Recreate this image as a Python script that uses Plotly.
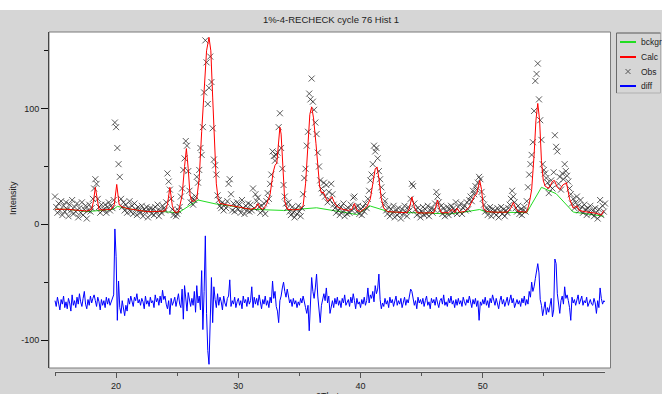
import plotly.graph_objects as go

# ---------------- data ----------------
scan_start = 15.0
scan_step = 0.1

obs = [
    24, 15, 10, 18, 12, 20, 8, 16, 11, 19,        # 15
    13, 7, 17, 12, 21, 9, 15, 11, 18, 6,          # 16
    14, 10, 19, 8, 13, 16, 5, 12, 17, 11,         # 17
    14, 22, 31, 39, 35, 22, 15, 10, 17, 12,       # 18
    13, 17, 10, 15, 19, 12, 16, 14, 21, 88,       # 19
    84, 66, 52, 41, 22, 15, 19, 12, 17, 10,       # 20
    14, 20, 11, 16, 9, 18, 13, 8, 15, 12,         # 21
    10, 16, 7, 13, 11, 15, 6, 12, 14, 9,          # 22
    13, 8, 15, 11, 17, 7, 12, 10, 16, 14,         # 23
    12, 19, 44, 37, 30, 22, 13, 8, 11, 7,         # 24
    9, 12, 15, 24, 31, 47, 57, 72, 68, 46,        # 25
    29, 19, 23, 17, 21, 24, 41, 36, 47, 66,       # 26
    60, 84, 114, 159, 140, 104, 118, 145, 123, 83,  # 27
    56, 51, 43, 25, 21, 16, 14, 19, 12, 17,       # 28
    14, 20, 35, 39, 26, 12, 18, 11, 15, 19,       # 29
    13, 17, 10, 21, 14, 9, 16, 12, 18, 11,        # 30
    17, 12, 31, 14, 26, 20, 23, 15, 10, 16,       # 31
    12, 18, 9, 20, 27, 22, 35, 43, 63, 59,        # 32
    55, 60, 62, 84, 96, 66, 48, 34, 24, 18,       # 33
    14, 19, 11, 8, 15, 10, 6, 13, 9, 16,          # 34
    11, 7, 14, 26, 40, 48, 68, 80, 113, 108,      # 35
    126, 106, 99, 88, 78, 62, 50, 38, 31, 27,     # 36
    36, 24, 34, 19, 28, 21, 35, 26, 17, 14,       # 37
    10, 16, 12, 8, 15, 11, 18, 7, 13, 9,          # 38
    14, 10, 17, 12, 23, 24, 15, 11, 16, 9,        # 39
    13, 8, 15, 11, 18, 14, 22, 29, 38, 43,        # 40
    52, 68, 63, 66, 57, 46, 39, 32, 25, 17,       # 41
    20, 12, 9, 15, 7, 13, 10, 16, 6, 12,          # 42
    8, 14, 10, 5, 13, 9, 16, 11, 7, 15,           # 43
    12, 22, 35, 33, 18, 13, 8, 14, 10, 6,         # 44
    11, 15, 8, 13, 9, 16, 7, 12, 14, 10,          # 45
    13, 18, 28, 24, 19, 12, 16, 9, 14, 7,         # 46
    11, 15, 8, 13, 16, 10, 14, 12, 19, 9,         # 47
    15, 11, 18, 9, 14, 16, 12, 19, 13, 21,        # 48
    24, 20, 29, 26, 33, 30, 36, 41, 39, 28,       # 49
    22, 17, 11, 14, 8, 12, 15, 7, 13, 10,         # 50
    12, 8, 14, 6, 11, 15, 9, 13, 7, 12,           # 51
    10, 14, 17, 22, 29, 24, 19, 14, 11, 16,       # 52
    9, 13, 8, 12, 15, 11, 20, 32, 43, 52,         # 53
    60, 71, 98, 124, 130, 139, 108, 90, 73, 52,   # 54
    47, 44, 40, 36, 27, 33, 38, 31, 45, 77,       # 55
    67, 63, 35, 41, 30, 44, 39, 52, 46, 42,       # 56
    37, 31, 26, 18, 22, 14, 19, 24, 16, 12,       # 57
    21, 15, 10, 17, 13, 8, 14, 11, 16, 9,         # 58
    12, 7, 14, 10, 5, 13, 21, 8, 16, 11,          # 59
    18,                                           # 60
]

diff = [
    -66, -71, -63, -70, -74, -65, -69, -62, -72, -67,   # 15
    -73, -64, -68, -75, -61, -70, -66, -72, -63, -69,   # 16
    -60, -67, -71, -64, -58, -69, -73, -65, -70, -62,   # 17
    -68, -64, -61, -66, -71, -63, -67, -74, -65, -70,   # 18
    -66, -72, -63, -69, -64, -70, -67, -65, -61, -4,    # 19
    -28, -83, -49, -72, -77, -66, -73, -79, -70, -75,   # 20
    -64, -69, -62, -67, -71, -63, -66, -60, -68, -65,   # 21
    -70, -64, -67, -73, -62, -69, -66, -71, -63, -68,   # 22
    -66, -72, -61, -67, -64, -70, -62, -68, -57, -65,   # 23
    -62, -69, -73, -66, -78, -64, -70, -67, -63, -71,   # 24
    -65, -60, -69, -72, -56, -82, -53, -68, -75, -59,   # 25
    -66, -71, -64, -70, -58, -76, -53, -68, -62, -74,   # 26
    -40, -91, -58, -10, -77, -109, -121, -89, -46, -85,  # 27
    -54, -65, -72, -60, -70, -63, -67, -74, -62, -68,   # 28
    -71, -64, -62, -48, -71, -66, -69, -63, -72, -67,   # 29
    -64, -70, -66, -73, -62, -68, -65, -71, -63, -69,   # 30
    -66, -54, -72, -63, -69, -64, -70, -61, -67, -73,   # 31
    -65, -69, -62, -70, -66, -72, -63, -68, -49, -64,   # 32
    -58, -71, -75, -85, -66, -62, -55, -50, -58, -63,   # 33
    -56, -62, -68, -65, -71, -64, -69, -66, -72, -67,   # 34
    -70, -64, -68, -62, -66, -72, -77, -70, -92, -60,   # 35
    -46, -58, -64, -55, -43, -62, -75, -85, -70, -64,   # 36
    -60, -66, -55, -68, -62, -77, -70, -66, -72, -64,   # 37
    -69, -63, -70, -66, -72, -64, -68, -61, -70, -67,   # 38
    -65, -71, -63, -68, -60, -66, -73, -64, -69, -67,   # 39
    -72, -65, -69, -63, -70, -66, -55, -68, -61, -64,   # 40
    -58, -67, -53, -60, -56, -43, -65, -73, -68, -71,   # 41
    -64, -69, -66, -72, -63, -68, -65, -71, -67, -62,   # 42
    -70, -66, -69, -64, -72, -67, -63, -70, -65, -68,   # 43
    -61, -56, -58, -64, -70, -66, -73, -63, -68, -65,   # 44
    -69, -64, -71, -66, -62, -70, -67, -73, -64, -68,   # 45
    -65, -70, -63, -68, -72, -66, -64, -69, -61, -70,   # 46
    -67, -71, -64, -68, -62, -69, -66, -72, -65, -70,   # 47
    -64, -69, -66, -71, -63, -67, -70, -65, -68, -62,   # 48
    -68, -72, -65, -69, -64, -71, -66, -83, -67, -70,   # 49
    -65, -69, -63, -70, -66, -72, -64, -68, -61, -67,   # 50
    -70, -64, -68, -73, -66, -62, -69, -65, -71, -67,   # 51
    -63, -70, -66, -61, -68, -64, -72, -67, -65, -69,   # 52
    -66, -71, -64, -68, -62, -70, -65, -69, -58, -63,   # 53
    -50, -58, -54, -47, -42, -34, -42, -65, -70, -79,   # 54
    -73, -67, -78, -72, -76, -70, -64, -80, -74, -30,   # 55
    -34, -60, -72, -77, -66, -62, -69, -54, -64, -61,   # 56
    -66, -72, -83, -63, -68, -65, -70, -66, -61, -69,   # 57
    -64, -62, -70, -66, -68, -63, -71, -67, -65, -69,   # 58
    -70, -64, -68, -77, -66, -72, -55, -64, -69, -66,   # 59
    -67,                                                 # 60
]

two_theta = [round(scan_start + scan_step * i, 2) for i in range(len(obs))]

calc_x = [15.0, 16.0, 17.0, 17.6, 18.0, 18.15, 18.3, 18.45, 18.6, 19.0, 19.6, 19.85, 20.05, 20.25,
          20.5, 21.0, 21.5, 22.0, 22.5, 23.0, 23.5, 24.0, 24.2, 24.4, 24.6, 24.8, 25.1, 25.4,
          25.6, 25.75, 25.9, 26.05, 26.2, 26.4, 26.6, 26.8, 27.0, 27.2, 27.4, 27.6, 27.75, 27.9,
          28.05, 28.2, 28.35, 28.5, 29.0, 29.5, 30.0, 30.5, 31.0, 31.4, 31.6, 31.8, 32.0, 32.3,
          32.6, 32.85, 33.0, 33.15, 33.3, 33.4, 33.5, 33.65, 33.8, 34.0, 34.5, 35.0, 35.3, 35.5,
          35.7, 35.85, 36.0, 36.15, 36.35, 36.5, 36.65, 36.8, 36.95, 37.1, 37.3, 37.5, 37.65,
          37.85, 38.1, 38.5, 39.0, 39.3, 39.5, 39.7, 40.0, 40.5, 40.8, 41.0, 41.2, 41.35, 41.5,
          41.7, 41.9, 42.2, 43.0, 43.8, 44.0, 44.2, 44.4, 44.6, 45.2, 46.0, 46.15, 46.3, 46.45,
          46.6, 47.2, 47.5, 47.7, 47.9, 48.1, 48.5, 48.9, 49.2, 49.35, 49.5, 49.75, 49.9, 50.05,
          50.3, 51.0, 52.0, 52.3, 52.5, 52.7, 52.9, 53.6, 53.8, 54.0, 54.2, 54.35, 54.5, 54.65,
          54.8, 54.95, 55.1, 55.4, 55.7, 55.85, 56.1, 56.3, 56.55, 56.85, 57.1, 57.4, 57.7,
          57.9, 58.3, 58.8, 59.3, 59.7, 59.9]
calc_y = [13, 13, 12, 11.5, 13, 20, 32, 20, 12.5, 12.5, 13, 17, 34.5, 17,
          15, 13.5, 12.5, 11.5, 11, 11, 11, 11.5, 17, 32, 16, 10.5, 10.5, 25,
          50, 65.5, 48, 25, 20, 20, 22, 40, 80, 120, 150, 161.6, 150, 110,
          65, 35, 22, 18, 17, 16, 15, 14, 13, 14, 18, 14, 13, 17,
          26, 45, 51, 53, 70, 84, 78, 45, 20, 13, 12.5, 13, 16, 35,
          70, 95, 101.5, 92, 70, 50, 33, 27, 28, 24, 20, 22, 24,
          19, 15, 13, 12, 13, 18, 12, 11, 15, 22, 35, 48, 49.6, 40,
          22, 14, 11, 10.5, 10, 14, 23.7, 15, 10, 9.8, 10, 15, 21, 14,
          10, 10, 13, 10, 14, 10.5, 11, 15, 22, 25, 26, 38, 30, 14,
          11, 10.5, 10.5, 14, 19, 14, 11, 10.5, 18, 30, 60, 90, 104.5, 90,
          55, 38, 33, 31, 37, 38, 32, 30, 34, 36, 22, 14, 16,
          12, 11, 10, 9.5, 8, 12]

bkg_x = [15.0, 16.0, 17.6, 19.8, 20.1, 21.0, 22.5, 23.8, 25.1, 26.7, 28.2, 29.3, 31.0, 33.7,
         36.4, 37.5, 39.7, 40.8, 42.4, 45.1, 47.3, 48.4, 49.75, 50.3, 53.6, 54.8, 56.0, 57.4, 59.9]
bkg_y = [13, 13, 11, 13, 15.5, 13.5, 11, 11, 10, 21, 17.5, 16, 13, 12,
         14.3, 12.5, 8.5, 15.8, 10.6, 9.8, 9.0, 10.5, 12.8, 10.6, 10.1, 32, 26.5, 10.6, 7]

x_ticks = [20, 30, 40, 50]
x_minor_ticks = [15, 25, 35, 45, 55]
y_ticks = [-100, 0, 100]
y_minor_ticks = [-50, 50, 150]

legend_names = ["bckgr", "Calc", "Obs", "diff"]

# ---------------- styling / layout ----------------
W, H = 662, 394
ML, MR, MT, MB = 49, 52, 32, 22
PW, PH = W - ML - MR, H - MT - MB


def px(x):
    return (x - ML) / PW


def py(y):
    return (H - MB - y) / PH


GRAY = "#d6d6d6"
FONT = "Liberation Sans, Arial, sans-serif"

fig = go.Figure()
fig.add_trace(go.Scatter(x=bkg_x, y=bkg_y, mode="lines", line=dict(color="#22dd22", width=1),
                         showlegend=False, hoverinfo="skip"))
fig.add_trace(go.Scatter(x=two_theta, y=obs, mode="markers",
                         marker=dict(symbol="x-thin", size=6,
                                     line=dict(color="rgba(30,30,30,0.72)", width=1)),
                         showlegend=False, hoverinfo="skip"))
fig.add_trace(go.Scatter(x=calc_x, y=calc_y, mode="lines", line=dict(color="#ff0000", width=1),
                         showlegend=False, hoverinfo="skip"))
fig.add_trace(go.Scatter(x=two_theta, y=diff, mode="lines", line=dict(color="#0000ff", width=1),
                         showlegend=False, hoverinfo="skip"))
# carrier for the separate 2Theta axis drawn below the plot box
fig.add_trace(go.Scatter(x=[x_ticks[0]], y=[0.5], xaxis="x2", yaxis="y2", mode="markers",
                         marker=dict(opacity=0), showlegend=False, hoverinfo="skip"))

shapes = []
# white strip at top of the window
shapes.append(dict(type="rect", xref="paper", yref="paper", x0=px(-5), x1=px(W + 5),
                   y0=py(10), y1=py(-5), fillcolor="white", line=dict(width=0), layer="below"))
# plot box frame
shapes.append(dict(type="rect", xref="paper", yref="paper", x0=px(49), x1=px(610.5),
                   y0=py(368), y1=py(32), line=dict(color="#7a7a7a", width=1)))
# legend box
shapes.append(dict(type="rect", xref="paper", yref="paper", x0=px(616.5), x1=px(660.5),
                   y0=py(93), y1=py(33), fillcolor=GRAY, line=dict(color="#b0b0b0", width=1)))
shapes.append(dict(type="line", xref="paper", yref="paper", x0=px(616.5), x1=px(616.5),
                   y0=py(93), y1=py(33), line=dict(color="#6a6a6a", width=1)))
shapes.append(dict(type="line", xref="paper", yref="paper", x0=px(616.5), x1=px(660.5),
                   y0=py(33), y1=py(33), line=dict(color="#6a6a6a", width=1)))

legend_y = [42, 57, 71.5, 86]
legend_colors = ["#22dd22", "#ff0000", None, "#0000ff"]
annotations = []
for name, ly, col in zip(legend_names, legend_y, legend_colors):
    if col:
        shapes.append(dict(type="line", xref="paper", yref="paper", x0=px(620), x1=px(636),
                           y0=py(ly), y1=py(ly), line=dict(color=col, width=2)))
    else:
        shapes.append(dict(type="line", xref="paper", yref="paper", x0=px(625.5), x1=px(630.5),
                           y0=py(ly - 2.5), y1=py(ly + 2.5), line=dict(color="#555", width=1)))
        shapes.append(dict(type="line", xref="paper", yref="paper", x0=px(625.5), x1=px(630.5),
                           y0=py(ly + 2.5), y1=py(ly - 2.5), line=dict(color="#555", width=1)))
    annotations.append(dict(text=name, xref="paper", yref="paper", x=px(638.5), y=py(ly),
                            xanchor="left", yanchor="middle", showarrow=False,
                            font=dict(size=8.5, color="#222", family=FONT)))

annotations.append(dict(text="Intensity", xref="paper", yref="paper", x=px(13), y=py(198),
                        textangle=-90, xanchor="center", yanchor="middle", showarrow=False,
                        font=dict(size=9, color="#222", family=FONT)))
annotations.append(dict(text="2Theta", xref="paper", yref="paper", x=px(330), y=py(396),
                        xanchor="center", yanchor="middle", showarrow=False,
                        font=dict(size=9, color="#222", family=FONT)))

xr0 = 15 - 6 / 12.222
xr1 = xr0 + PW / 12.222

fig.update_layout(
    template="none",
    width=W, height=H, autosize=False,
    margin=dict(l=ML, r=MR, t=MT, b=MB, pad=0, autoexpand=False),
    paper_bgcolor=GRAY, plot_bgcolor="white",
    showlegend=False,
    title=dict(text="1%-4-RECHECK cycle 76 Hist 1", x=0.5, xref="container", xanchor="center",
               y=1 - 20 / H, yref="container", yanchor="middle",
               font=dict(size=9.5, color="#222", family=FONT)),
    xaxis=dict(range=[xr0, xr1], visible=False, domain=[0, 1], anchor="y", automargin=False),
    yaxis=dict(range=[-124.2, 166.25], domain=[4 / PH, 1], anchor="x", automargin=False,
               showline=True, linecolor="#111", linewidth=1, showgrid=False, zeroline=False,
               ticks="outside", ticklen=7, tickcolor="#111", tickmode="array", tickvals=y_ticks,
               ticktext=[str(v) for v in y_ticks],
               minor=dict(tickmode="array", tickvals=y_minor_ticks, ticklen=4, ticks="outside",
                          tickcolor="#111", showgrid=False),
               tickfont=dict(size=9, color="#222", family=FONT)),
    xaxis2=dict(range=[15, 60], domain=[6 / PW, 556 / PW], anchor="y2", automargin=False,
                showline=True, linecolor="#555", linewidth=1, showgrid=False, zeroline=False,
                ticks="outside", ticklen=5, tickcolor="#555", tickmode="array", tickvals=x_ticks,
                ticktext=[str(v) for v in x_ticks],
                minor=dict(tickmode="array", tickvals=x_minor_ticks, ticklen=3, ticks="outside",
                           tickcolor="#555", showgrid=False),
                tickfont=dict(size=9, color="#222", family=FONT)),
    yaxis2=dict(range=[0, 1], domain=[0, 0.001], anchor="x2", visible=False, automargin=False),
    shapes=shapes,
    annotations=annotations,
)

fig.write_html("out.html",
               config={"displayModeBar": False, "responsive": False},
               post_script="document.body.style.margin='0px';document.body.style.overflow='hidden';")
